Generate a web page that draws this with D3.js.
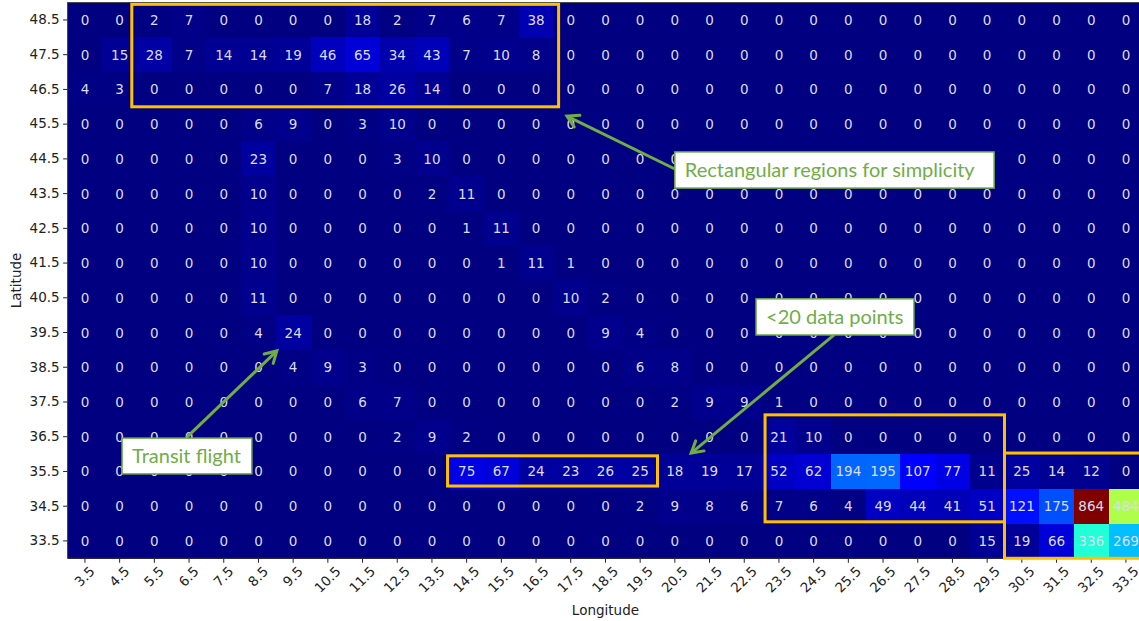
<!DOCTYPE html>
<html>
<head>
<meta charset="utf-8">
<script src="https://cdn.jsdelivr.net/npm/d3@7"></script>
<style>
  html, body { margin: 0; padding: 0; background: #fff; }
  svg { display: block; }
</style>
</head>
<body>
<svg id="chart" width="1139" height="621"></svg>
<script>
// Grid axes: longitude columns and latitude rows (cell centres, degrees)
const longitudes = [3.5, 4.5, 5.5, 6.5, 7.5, 8.5, 9.5, 10.5, 11.5, 12.5, 13.5, 14.5, 15.5, 16.5, 17.5,
  18.5, 19.5, 20.5, 21.5, 22.5, 23.5, 24.5, 25.5, 26.5, 27.5, 28.5, 29.5, 30.5, 31.5, 32.5, 33.5];
const latitudes = [48.5, 47.5, 46.5, 45.5, 44.5, 43.5, 42.5, 41.5, 40.5, 39.5, 38.5, 37.5, 36.5, 35.5, 34.5, 33.5];

// Number of data points per 1°x1° cell, one row per latitude (top to bottom)
const lat48_5 = [0, 0, 2, 7, 0, 0, 0, 0, 18, 2, 7, 6, 7, 38, 0, 0, 0, 0, 0, 0, 0, 0, 0, 0, 0, 0, 0, 0, 0, 0, 0];
const lat47_5 = [0, 15, 28, 7, 14, 14, 19, 46, 65, 34, 43, 7, 10, 8, 0, 0, 0, 0, 0, 0, 0, 0, 0, 0, 0, 0, 0, 0, 0, 0, 0];
const lat46_5 = [4, 3, 0, 0, 0, 0, 0, 7, 18, 26, 14, 0, 0, 0, 0, 0, 0, 0, 0, 0, 0, 0, 0, 0, 0, 0, 0, 0, 0, 0, 0];
const lat45_5 = [0, 0, 0, 0, 0, 6, 9, 0, 3, 10, 0, 0, 0, 0, 0, 0, 0, 0, 0, 0, 0, 0, 0, 0, 0, 0, 0, 0, 0, 0, 0];
const lat44_5 = [0, 0, 0, 0, 0, 23, 0, 0, 0, 3, 10, 0, 0, 0, 0, 0, 0, 0, 0, 0, 0, 0, 0, 0, 0, 0, 0, 0, 0, 0, 0];
const lat43_5 = [0, 0, 0, 0, 0, 10, 0, 0, 0, 0, 2, 11, 0, 0, 0, 0, 0, 0, 0, 0, 0, 0, 0, 0, 0, 0, 0, 0, 0, 0, 0];
const lat42_5 = [0, 0, 0, 0, 0, 10, 0, 0, 0, 0, 0, 1, 11, 0, 0, 0, 0, 0, 0, 0, 0, 0, 0, 0, 0, 0, 0, 0, 0, 0, 0];
const lat41_5 = [0, 0, 0, 0, 0, 10, 0, 0, 0, 0, 0, 0, 1, 11, 1, 0, 0, 0, 0, 0, 0, 0, 0, 0, 0, 0, 0, 0, 0, 0, 0];
const lat40_5 = [0, 0, 0, 0, 0, 11, 0, 0, 0, 0, 0, 0, 0, 0, 10, 2, 0, 0, 0, 0, 0, 0, 0, 0, 0, 0, 0, 0, 0, 0, 0];
const lat39_5 = [0, 0, 0, 0, 0, 4, 24, 0, 0, 0, 0, 0, 0, 0, 0, 9, 4, 0, 0, 0, 0, 0, 0, 0, 0, 0, 0, 0, 0, 0, 0];
const lat38_5 = [0, 0, 0, 0, 0, 0, 4, 9, 3, 0, 0, 0, 0, 0, 0, 0, 6, 8, 0, 0, 0, 0, 0, 0, 0, 0, 0, 0, 0, 0, 0];
const lat37_5 = [0, 0, 0, 0, 0, 0, 0, 0, 6, 7, 0, 0, 0, 0, 0, 0, 0, 2, 9, 9, 1, 0, 0, 0, 0, 0, 0, 0, 0, 0, 0];
const lat36_5 = [0, 0, 0, 0, 0, 0, 0, 0, 0, 2, 9, 2, 0, 0, 0, 0, 0, 0, 0, 0, 21, 10, 0, 0, 0, 0, 0, 0, 0, 0, 0];
const lat35_5 = [0, 0, 0, 0, 0, 0, 0, 0, 0, 0, 0, 75, 67, 24, 23, 26, 25, 18, 19, 17, 52, 62, 194, 195, 107, 77, 11, 25, 14, 12, 0];
const lat34_5 = [0, 0, 0, 0, 0, 0, 0, 0, 0, 0, 0, 0, 0, 0, 0, 0, 2, 9, 8, 6, 7, 6, 4, 49, 44, 41, 51, 121, 175, 864, 484];
const lat33_5 = [0, 0, 0, 0, 0, 0, 0, 0, 0, 0, 0, 0, 0, 0, 0, 0, 0, 0, 0, 0, 0, 0, 0, 0, 0, 0, 15, 19, 66, 336, 269];

const countRows = [lat48_5, lat47_5, lat46_5, lat45_5, lat44_5, lat43_5, lat42_5, lat41_5,
  lat40_5, lat39_5, lat38_5, lat37_5, lat36_5, lat35_5, lat34_5, lat33_5];

// Highlighted regions: [lonMin, lonMax, latMin, latMax]
const regions = [
  [4.85, 17.15, 46.0, 48.95],
  [13.95, 20.0, 35.08, 35.95],
  [23.1, 30.0, 34.05, 37.13],
  [30.0, 34.3, 33.0, 36.03]
];

// Callouts: box corners and arrow (from -> to), all in lon/lat
const callouts = [
  { text: "Rectangular regions for simplicity", box: [20.5, 29.7, 43.66, 44.7], from: [20.56, 44.18], to: [17.39, 45.73] },
  { text: "<20 data points", box: [22.84, 27.39, 39.43, 40.47], from: [25.09, 39.43], to: [20.97, 36.03] },
  { text: "Transit flight", box: [4.57, 8.31, 35.43, 36.46], from: [6.44, 36.49], to: [9.03, 38.97] }
];

const cells = [];
latitudes.forEach((lat, i) => {
  longitudes.forEach((lon, j) => cells.push({ lat, lon, value: countRows[i][j] }));
});

const svg = d3.select("#chart");
const plotLeft = 67.6, plotTop = 2.6, cellW = 34.7, cellH = 34.73;
const plotRight = plotLeft + cellW * longitudes.length;
const plotBottom = plotTop + cellH * latitudes.length;

const x = d3.scaleBand().domain(longitudes).range([plotLeft, plotRight]);
const y = d3.scaleBand().domain(latitudes).range([plotTop, plotBottom]);
// continuous coordinates for overlays
const xLin = d3.scaleLinear().domain([3, 34]).range([plotLeft, plotRight]);
const yLin = d3.scaleLinear().domain([49, 33]).range([plotTop, plotBottom]);

// matplotlib "jet" colormap, one piecewise-linear scale per channel
const jetR = d3.scaleLinear().domain([0, 0.35, 0.66, 0.89, 1]).range([0, 0, 1, 1, 0.5]).clamp(true);
const jetG = d3.scaleLinear().domain([0, 0.125, 0.375, 0.64, 0.91, 1]).range([0, 0, 1, 1, 0, 0]).clamp(true);
const jetB = d3.scaleLinear().domain([0, 0.11, 0.34, 0.65, 1]).range([0.5, 1, 1, 0, 0]).clamp(true);
const norm = d3.scaleLinear().domain([0, d3.max(cells, d => d.value)]).range([0, 1]).clamp(true);
const jet = v => {
  const t = norm(v);
  return d3.rgb(jetR(t) * 255, jetG(t) * 255, jetB(t) * 255).formatHex();
};

// heatmap cells
svg.append("g").attr("shape-rendering", "crispEdges")
  .selectAll("rect").data(cells).join("rect")
  .attr("x", d => x(d.lon))
  .attr("y", d => y(d.lat))
  .attr("width", x.bandwidth() + 1)
  .attr("height", y.bandwidth() + 1)
  .attr("fill", d => jet(d.value));

// cell annotations
svg.append("g").selectAll("text").data(cells).join("text")
  .attr("x", d => x(d.lon) + x.bandwidth() / 2)
  .attr("y", d => y(d.lat) + y.bandwidth() / 2)
  .attr("text-anchor", "middle")
  .attr("dominant-baseline", "central")
  .attr("font-family", "DejaVu Sans, sans-serif")
  .attr("font-size", 13.5)
  .attr("fill", "#dcdcee")
  .text(d => d.value);

// axes
const fmt = d3.format(".1f");
const yAxis = svg.append("g")
  .attr("transform", `translate(${plotLeft},0)`)
  .call(d3.axisLeft(y).tickFormat(fmt).tickSize(4.5).tickPadding(3.5));
yAxis.select(".domain").remove();
yAxis.selectAll("text").attr("font-family", "DejaVu Sans, sans-serif").attr("font-size", 13.5).attr("fill", "#222");
yAxis.selectAll("line").attr("stroke", "#222").attr("stroke-width", 1);

const xAxis = svg.append("g")
  .attr("transform", `translate(0,${plotBottom})`)
  .call(d3.axisBottom(x).tickFormat(fmt).tickSize(4.5).tickPadding(3.5));
xAxis.select(".domain").remove();
xAxis.selectAll("line").attr("stroke", "#222").attr("stroke-width", 1);
xAxis.selectAll("text")
  .attr("font-family", "DejaVu Sans, sans-serif")
  .attr("font-size", 13.5)
  .attr("fill", "#222")
  .attr("text-anchor", "end")
  .attr("dy", null)
  .each(function () {
    const len = this.getComputedTextLength();
    const dx = len / (2 * Math.SQRT2) + 3;
    d3.select(this).attr("x", 0).attr("y", 0)
      .attr("transform", `translate(${dx},14) rotate(-45)`);
  });

// frame
svg.append("rect")
  .attr("x", plotLeft).attr("y", plotTop)
  .attr("width", plotRight - plotLeft).attr("height", plotBottom - plotTop)
  .attr("fill", "none").attr("stroke", "#333").attr("stroke-width", 1);

// axis titles
svg.append("text")
  .attr("x", (plotLeft + plotRight) / 2).attr("y", 615)
  .attr("text-anchor", "middle")
  .attr("font-family", "DejaVu Sans, sans-serif").attr("font-size", 13.5).attr("fill", "#222")
  .text("Longitude");
svg.append("text")
  .attr("transform", `translate(21,${(plotTop + plotBottom) / 2}) rotate(-90)`)
  .attr("text-anchor", "middle")
  .attr("font-family", "DejaVu Sans, sans-serif").attr("font-size", 13.5).attr("fill", "#222")
  .text("Latitude");

// highlighted regions
svg.append("g").selectAll("rect").data(regions).join("rect")
  .attr("x", d => xLin(d[0]))
  .attr("y", d => yLin(d[3]))
  .attr("width", d => xLin(d[1]) - xLin(d[0]))
  .attr("height", d => yLin(d[2]) - yLin(d[3]))
  .attr("fill", "none")
  .attr("stroke", "#FFC000")
  .attr("stroke-width", 3);

// callout arrows and labels
const green = "#70AD47";
const co = svg.append("g");
callouts.forEach(c => {
  const x0 = xLin(c.from[0]), y0 = yLin(c.from[1]);
  const x1 = xLin(c.to[0]), y1 = yLin(c.to[1]);
  const ang = Math.atan2(y1 - y0, x1 - x0);
  const head = 13, spread = Math.PI / 6;
  co.append("line")
    .attr("x1", x0).attr("y1", y0).attr("x2", x1).attr("y2", y1)
    .attr("stroke", green).attr("stroke-width", 3);
  co.append("path")
    .attr("d", `M${x1 - head * Math.cos(ang - spread)},${y1 - head * Math.sin(ang - spread)}L${x1},${y1}L${x1 - head * Math.cos(ang + spread)},${y1 - head * Math.sin(ang + spread)}`)
    .attr("fill", "none").attr("stroke", green).attr("stroke-width", 3)
    .attr("stroke-linejoin", "miter").attr("stroke-linecap", "round");
  const bx = xLin(c.box[0]), by = yLin(c.box[3]);
  const bw = xLin(c.box[1]) - bx, bh = yLin(c.box[2]) - by;
  co.append("rect")
    .attr("x", bx).attr("y", by).attr("width", bw).attr("height", bh)
    .attr("fill", "#fff").attr("stroke", green).attr("stroke-width", 1.5);
  co.append("text")
    .attr("x", bx + 10).attr("y", by + bh / 2 + 7)
    .attr("font-family", "Lato, 'Open Sans', sans-serif")
    .attr("font-size", 20)
    .attr("fill", green)
    .text(c.text);
});
</script>
</body>
</html>
